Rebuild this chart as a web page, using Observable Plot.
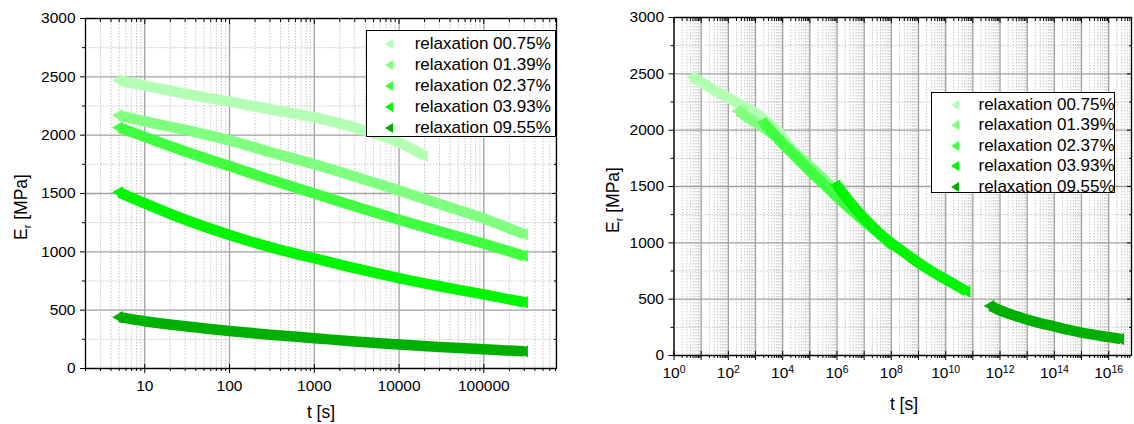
<!DOCTYPE html>
<html><head><meta charset="utf-8">
<script src="https://cdn.jsdelivr.net/npm/d3@7"></script>
<script src="https://cdn.jsdelivr.net/npm/@observablehq/plot@0.6"></script>
<style>
body{margin:0;background:#fff;font-family:'Liberation Sans',Arial,sans-serif;}
#wrap{position:relative;width:1134px;height:424px;overflow:hidden;}
.panel{position:absolute;top:0;}
.legend{position:absolute;border:1px solid #000;background:#fff;box-sizing:border-box;}
.legend .row{position:absolute;left:0;height:20px;font-size:17px;color:#000;white-space:nowrap;}
</style></head><body><div id="wrap"></div>
<script>
// ---- data ----
const seriesNames = ["relaxation 00.75%","relaxation 01.39%","relaxation 02.37%","relaxation 03.93%","relaxation 09.55%"];
const seriesColors = ["#b3ffb3","#80ff80","#40ff40","#00f500","#00b000"];
const timesShort = [5,10,30,100,300,1000,3000,10000,20000];
const timesLong  = [5,10,30,100,300,1000,3000,10000,30000,100000,300000];
const E_0075 = [2470,2425,2355,2288,2222,2152,2065,1940,1822];
const E_0139 = [2170,2118,2045,1955,1855,1750,1645,1525,1410,1285,1150];
const E_0237 = [2065,1985,1860,1735,1620,1500,1390,1275,1175,1070,965];
const E_0393 = [1510,1415,1275,1145,1040,945,860,775,705,635,568];
const E_0955 = [440,405,362,322,290,260,232,206,185,165,147];
// horizontal shift (log10 of shift factor) of each series in the master curve (right panel)
const shiftLog = [0,1.68,2.6,5.3,10.96];
const yMajor = [0,500,1000,1500,2000,2500,3000];
const yMinor = [250,750,1250,1750,2250,2750];
const xMajorLeft = [10,100,1000,10000,100000];
const decadesRight = [0,1,2,3,4,5,6,7,8,9,10,11,12,13,14,15,16];

const seriesE = [E_0075,E_0139,E_0237,E_0393,E_0955];
const seriesT = [timesShort,timesLong,timesLong,timesLong,timesLong];
const rows = [];
seriesNames.forEach((name,i)=>{
  seriesT[i].forEach((t,j)=>rows.push({series:name, idx:i, t, tShift:t*Math.pow(10,shiftLog[i]), E:seriesE[i][j]}));
});

const fontFam = "'Liberation Sans', Arial, sans-serif";
function minorTicks(kMin,kMax,lo,hi){const o=[];for(let k=kMin;k<=kMax;k++)for(let m=2;m<=9;m++){const v=m*Math.pow(10,k);if(v>=lo&&v<=hi)o.push(v);}return o;}

function chart({mL,mR,mT,mB,xDomain,xMajor,xMinor,fmt,xField}){
  const marks = [
    Plot.gridX(xMinor,{stroke:"#b8b8b8",strokeOpacity:1,strokeWidth:0.8,strokeDasharray:"1.5,1.5"}),
    Plot.gridY(yMinor,{stroke:"#b8b8b8",strokeOpacity:1,strokeWidth:0.8,strokeDasharray:"1.5,1.5"}),
    Plot.gridX(xMajor,{stroke:"#a0a0a0",strokeOpacity:1,strokeWidth:1.3}),
    Plot.gridY(yMajor,{stroke:"#a0a0a0",strokeOpacity:1,strokeWidth:1.3})
  ];
  seriesNames.forEach((name,i)=>{
    const d = rows.filter(r=>r.idx===i);
    marks.push(Plot.line(d,{x:xField,y:"E",stroke:seriesColors[i],strokeWidth:10.5,strokeLinecap:"butt",curve:"monotone-x"}));
    marks.push(Plot.dot([d[0],d[d.length-1]],{x:xField,y:"E",symbol:"triangle",r:4.6,rotate:-90,fill:seriesColors[i],stroke:"none"}));
  });
  marks.push(Plot.frame({stroke:"#000",strokeWidth:1.3}));
  marks.push(Plot.axisX(xMajor,{anchor:"bottom",tickSize:5,tickPadding:6.5,tickFormat:fmt,label:null}));
  marks.push(Plot.axisX(xMinor,{anchor:"bottom",tickSize:3,tickFormat:()=>"",label:null}));
  marks.push(Plot.axisX(xMajor,{anchor:"bottom",tickSize:-4,tickFormat:()=>"",label:null}));
  marks.push(Plot.axisX(xMajor,{anchor:"top",tickSize:-5,tickFormat:()=>"",label:null}));
  marks.push(Plot.axisX(xMinor,{anchor:"top",tickSize:-3,tickFormat:()=>"",label:null}));
  marks.push(Plot.axisY(yMajor,{anchor:"left",tickSize:5,tickPadding:5,tickFormat:d=>String(d),label:null}));
  marks.push(Plot.axisY(yMinor,{anchor:"left",tickSize:3,tickFormat:()=>"",label:null}));
  marks.push(Plot.axisY(yMajor,{anchor:"right",tickSize:-5,tickFormat:()=>"",label:null}));
  marks.push(Plot.axisY(yMinor,{anchor:"right",tickSize:-3,tickFormat:()=>"",label:null}));
  const svg = Plot.plot({
    width:567,height:424,marginLeft:mL,marginRight:mR,marginTop:mT,marginBottom:mB,
    x:{type:"log",domain:xDomain},
    y:{domain:[0,3000]},
    style:{fontFamily:fontFam,fontSize:"15.5px",color:"#000",background:"transparent",overflow:"visible"},
    marks
  });
  d3.select(svg).selectAll('[aria-label$="tick label"]').style("font-size","15.5px").attr("font-size",null);
  return svg;
}

function addTitles(svg,{tx,ty,ex,ey}){
  const s=d3.select(svg);
  s.append("text").attr("x",tx).attr("y",ty).attr("text-anchor","middle")
    .attr("font-size",17.5).attr("font-family",fontFam).attr("fill","#000").text("t [s]");
  const t=s.append("text").attr("transform",`translate(${ex},${ey}) rotate(-90)`).attr("text-anchor","middle")
    .attr("font-size",17.5).attr("font-family",fontFam).attr("fill","#000");
  t.append("tspan").text("E");
  t.append("tspan").attr("font-size",11).attr("dy",4).text("r");
  t.append("tspan").attr("dy",-4).text(" [MPa]");
}

function addLegend(parent,{left,top,width,height,row0,step,symX,textX}){
  const lg=document.createElement("div");
  lg.className="legend";
  Object.assign(lg.style,{left:left+"px",top:top+"px",width:width+"px",height:height+"px"});
  seriesNames.forEach((name,i)=>{
    const r=document.createElement("div");
    r.className="row";
    r.style.top=(row0+i*step-10)+"px";
    r.style.width=width+"px";
    r.innerHTML=`<svg width="12" height="20" style="position:absolute;left:${symX-6}px;top:0"><polygon points="2,10 10,5 10,15" fill="${seriesColors[i]}"/></svg><span style="position:absolute;left:${textX}px;top:0;line-height:20px">${name}</span>`;
    lg.appendChild(r);
  });
  parent.appendChild(lg);
}

const wrap=document.getElementById("wrap");

// left panel
const left=chart({mL:85,mR:11,mT:18,mB:56,xDomain:[2,7.2e5],xMajor:xMajorLeft,
  xMinor:minorTicks(0,5,2,7.2e5),fmt:d=>String(d),xField:"t"});
addTitles(left,{tx:321,ty:418,ex:27,ey:207});
const pl=document.createElement("div");pl.className="panel";pl.style.left="0px";pl.appendChild(left);wrap.appendChild(pl);

// right panel
const right=chart({mL:106.5,mR:3,mT:17,mB:69,xDomain:[1,Math.pow(10,16.84)],
  xMajor:decadesRight.map(k=>Math.pow(10,k)),xMinor:minorTicks(0,16,1,Math.pow(10,16.84)),
  fmt:d=>{const k=Math.round(Math.log10(d));return k%2===0?`10^${k}`:"";},xField:"tShift"});
right.querySelectorAll('[aria-label="x-axis tick label"] text').forEach(t=>{
  const s=t.textContent; if(!s.includes("^"))return;
  const [b,e]=s.split("^"); t.textContent="";
  const ns="http://www.w3.org/2000/svg";
  const a=document.createElementNS(ns,"tspan");a.textContent=b;t.appendChild(a);
  const c=document.createElementNS(ns,"tspan");c.textContent=e;c.setAttribute("dy","-0.45em");c.setAttribute("font-size","10.5px");t.appendChild(c);
});
addTitles(right,{tx:337,ty:410,ex:51.5,ey:200});
const pr=document.createElement("div");pr.className="panel";pr.style.left="567px";pr.appendChild(right);wrap.appendChild(pr);

addLegend(wrap,{left:366,top:30,width:190,height:107,row0:13.4,step:20.9,symX:21.5,textX:47.7});
addLegend(wrap,{left:931,top:92,width:184,height:101,row0:12,step:20.4,symX:22.5,textX:46.5});
</script></body></html>
